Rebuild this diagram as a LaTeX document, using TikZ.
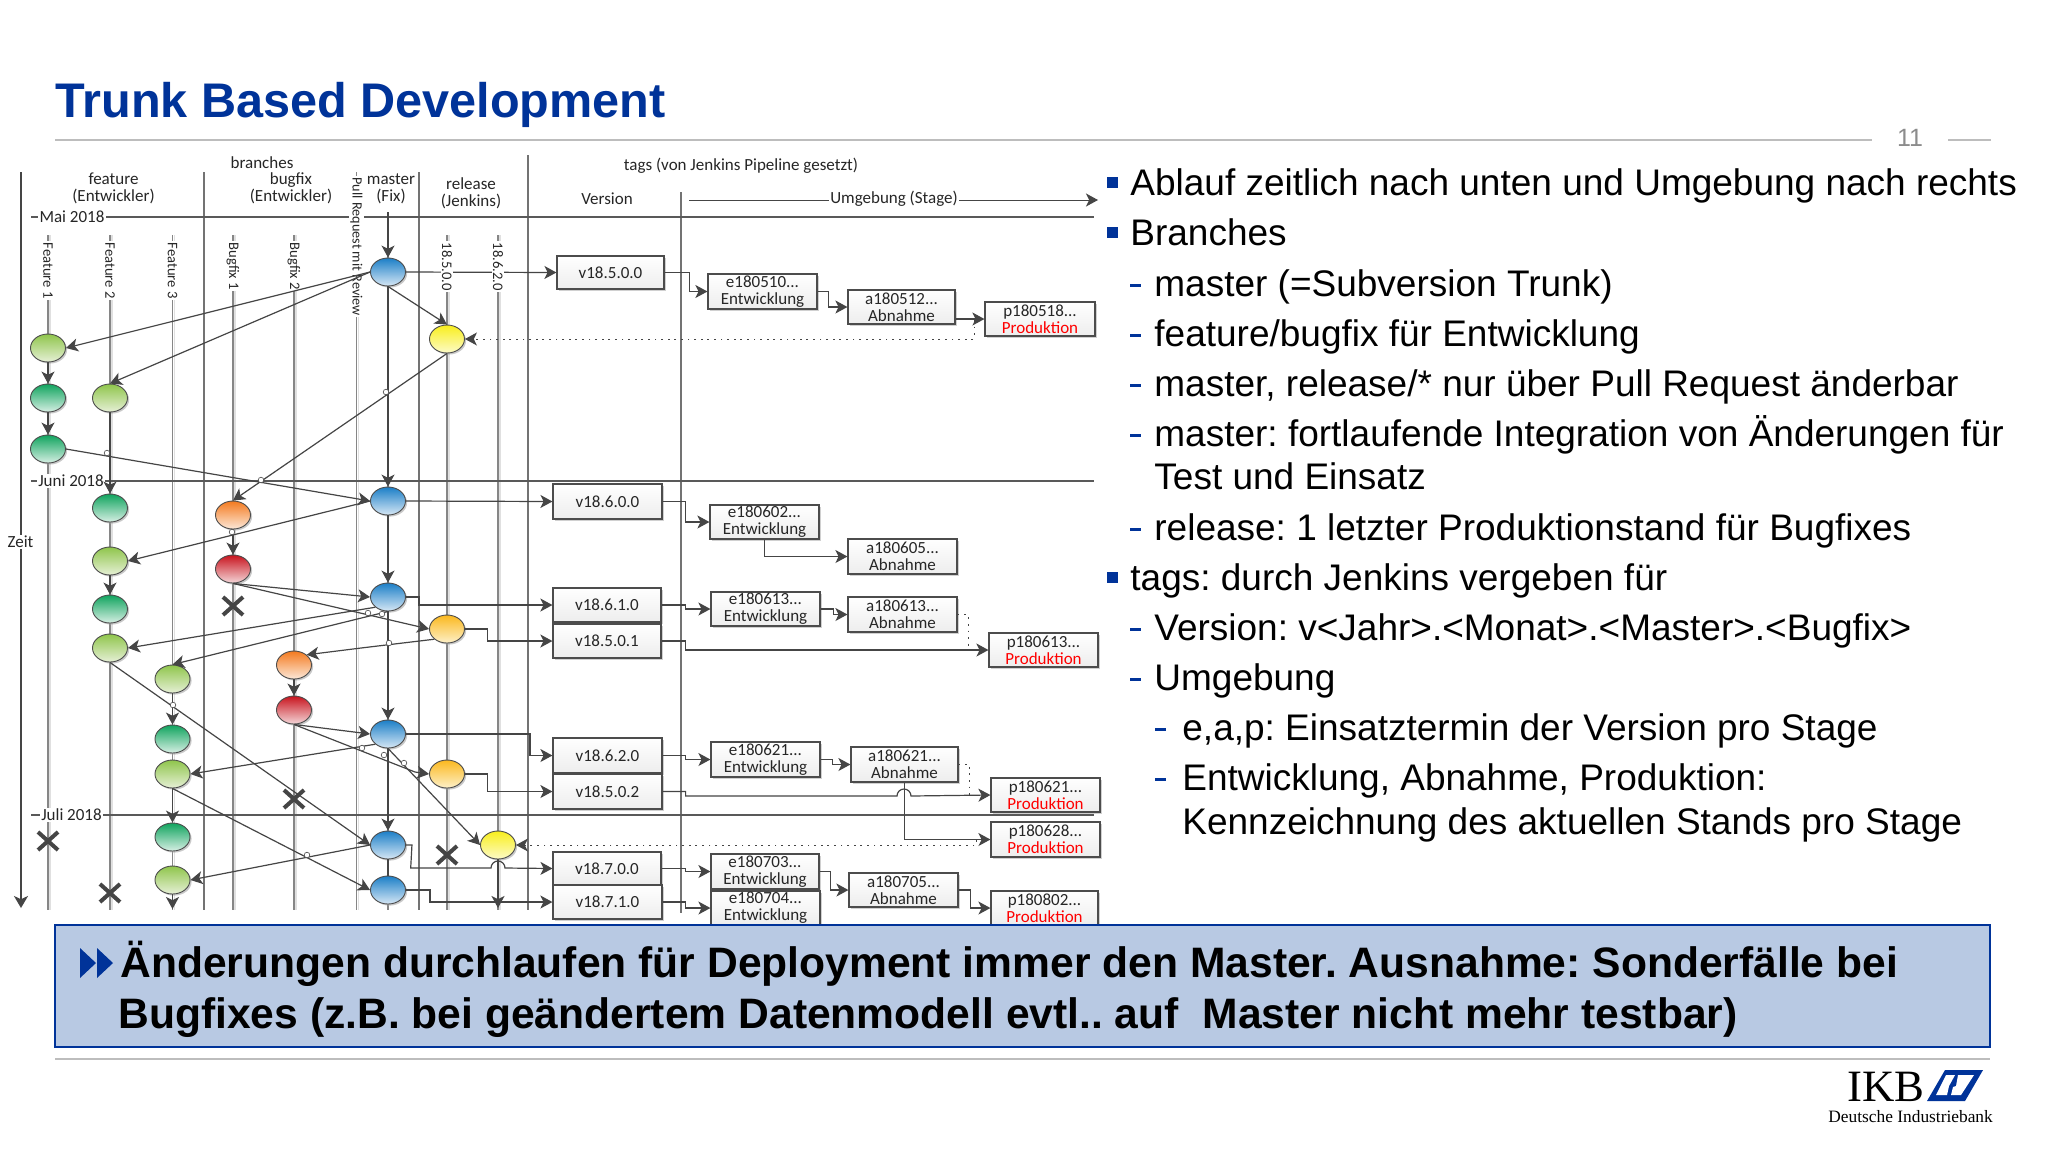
\documentclass[tikz,border=0pt]{standalone}
\usepackage{fontspec}
\setmainfont{Liberation Sans}
\newfontfamily\dgm{Carlito}
\newfontfamily\serifx{Liberation Serif}
\usetikzlibrary{arrows.meta,shapes.geometric,shapes.misc,shadows}
\definecolor{ikb}{HTML}{003399}
\definecolor{bannerfill}{HTML}{B8C9E3}
\definecolor{conn}{HTML}{454545}
\definecolor{brn}{HTML}{868686}
\definecolor{rul}{HTML}{BDBDBD}
\tikzset{
 txt/.style={inner sep=0,font=\dgm\fontsize{8.5}{8.7}\selectfont,align=center,text=black!85},
 vlabel/.style={rotate=-90,anchor=west,inner sep=0.6pt,fill=white,font=\dgm\fontsize{7.3}{8}\selectfont,text=black!85},
 mlabel/.style={inner sep=0.6pt,fill=white,font=\dgm\fontsize{8.5}{8.7}\selectfont,text=black!85},
 branchln/.style={draw=brn,line width=0.9pt},
 branchsh/.style={draw=black!12,line width=0.9pt},
 monthln/.style={draw=black!65,line width=0.7pt},
 sepln/.style={draw=black!55,line width=1pt},
 cn/.style={draw=conn,line width=0.6pt,-{Stealth[length=6pt,width=6.5pt,inset=1.6pt]}},
 cnplain/.style={draw=conn,line width=0.6pt},
 dot/.style={draw=conn,line width=0.5pt,dash pattern=on 0.9pt off 2.4pt},
 dotar/.style={dot,-{Stealth[length=6pt,width=6.5pt,inset=1.6pt,sep=0pt]}},
 hopm/.style={draw=conn,line width=0.3pt,fill=white},
 circ/.style={ellipse,draw=black!70,line width=0.45pt,minimum width=17.5pt,minimum height=14pt,inner sep=0,
   drop shadow={shadow xshift=0.8pt,shadow yshift=-0.8pt,fill=black!35,opacity=.6}},
 lg/.style={circ,top color=lgT,bottom color=lgB},
 dg/.style={circ,top color=dgT,bottom color=dgB},
 og/.style={circ,top color=ogT,bottom color=ogB},
 rd/.style={circ,top color=rdT,bottom color=rdB},
 am/.style={circ,top color=amT,bottom color=amB},
 ye/.style={circ,top color=yeT,bottom color=yeB},
 bl/.style={circ,top color=blT,bottom color=blB},
 killx/.style={cross out,draw=conn,line width=2pt,minimum width=8pt,minimum height=7pt,inner sep=0},
 tagb/.style={rectangle,draw=black!70,line width=0.6pt,top color=white,bottom color=black!7,inner sep=0,
   font=\dgm\fontsize{8.5}{8.5}\selectfont,align=center,text=black!85,
   drop shadow={shadow xshift=0.8pt,shadow yshift=-0.8pt,fill=black!30,opacity=.6}},
 body/.style={anchor=base west,inner sep=0,font=\fontsize{18.5}{20}\selectfont,text=black},
 squareb/.style={fill=ikb},
 banner/.style={anchor=base west,inner sep=0,font=\bfseries\fontsize{21.3}{24}\selectfont,text=black},
}
\definecolor{lgT}{HTML}{8FC54B}\definecolor{lgB}{HTML}{E6F0D6}
\definecolor{dgT}{HTML}{10A45E}\definecolor{dgB}{HTML}{D7EFE4}
\definecolor{ogT}{HTML}{F47A1F}\definecolor{ogB}{HTML}{FCE8D8}
\definecolor{rdT}{HTML}{C8141E}\definecolor{rdB}{HTML}{F4D6D8}
\definecolor{amT}{HTML}{FBB81E}\definecolor{amB}{HTML}{FDF0C8}
\definecolor{yeT}{HTML}{F8EE1C}\definecolor{yeB}{HTML}{FDFBC8}
\definecolor{blT}{HTML}{1C7FC7}\definecolor{blB}{HTML}{D6E7F5}
\newcommand\tagnode[6]{\pgfmathsetmacro\bxw{(#4-#2)*0.5}\pgfmathsetmacro\bxh{(#5-#3)*0.5}%
 \node[tagb,minimum width=\bxw pt,minimum height=\bxh pt] (#1) at ({(#2+#4)/2},{(#3+#5)/2}) {#6};}
\newcommand\prodt{\textcolor{red}{Produktion}}
\newcommand\hopat[2]{\draw[hopm] (#1,#2) circle[radius=1.4pt];}
\newcommand\sqb[1]{\fill[squareb] (1107,#1-18) rectangle (1118,#1-7);}
\newcommand\dsh[2]{\fill[squareb] (#1,#2-12) rectangle (#1+11,#2-9);}
\begin{document}
\frenchspacing
\begin{tikzpicture}[x=0.5pt,y=-0.5pt]
\useasboundingbox (0,0) rectangle (2048,1152);
\fill[white] (0,0) rectangle (2048,1152);

% title and rules
\node[anchor=base west,inner sep=0,font=\bfseries\fontsize{24.3}{26}\selectfont,text=ikb] (title) at (55,117) {Trunk Based Development};
\coordinate (rulea) at (55,140); \coordinate (ruleb) at (1872,140);
\draw[rul,line width=1pt] (rulea) -- (ruleb);
\node[inner sep=0,font=\fontsize{12.5}{13}\selectfont,text=black!45] (pageno) at (1910,138) {11};
\coordinate (rulec) at (1948,140); \coordinate (ruled) at (1991,140);
\draw[rul,line width=1pt] (rulec) -- (ruled);

% column separators and branch lines
\coordinate (zt) at (21,172); \coordinate (zb) at (21,908);
\foreach \x in {48,110,172.5,233,294,356.5,447,498} {\draw[branchsh] (\x+2,235) -- (\x+2,910);\draw[branchln] (\x,235) -- (\x,910);}
\draw[branchln] (356.5,172) -- (356.5,910);
\draw[branchln] (388,212) -- (388,910);
\foreach \x in {204,419} {\draw[sepln] (\x,172) -- (\x,910);}
\draw[sepln] (527.5,155) -- (527.5,910);
\draw[sepln] (680.5,192) -- (680.5,913);

% month lines
\foreach \y in {217,481,815} {\draw[monthln] (31,\y) -- (1094,\y);}
\node[mlabel] (mai) at (72,217) {Mai 2018};
\node[mlabel] (juni) at (71,481) {Juni 2018};
\node[mlabel] (juli) at (71.5,815) {Juli 2018};

% Zeit arrow
\draw[draw=conn,line width=0.9pt,-{Stealth[length=6pt,width=7pt,inset=1.6pt]}] (zt) -- (zb);
\node[mlabel] (zeit) at (20.5,542) {Zeit};

% header texts
\node[txt] (hbr) at (262,163) {branches};
\node[txt] (hfe) at (113.5,188.5) {feature\\(Entwickler)};
\node[txt] (hbu) at (291,188.5) {bugfix\\(Entwickler)};
\node[txt] (hma) at (391,188.5) {master\\(Fix)};
\node[txt] (hre) at (471,193) {release\\(Jenkins)};
\node[txt] (hta) at (741,166) {tags (von Jenkins Pipeline gesetzt)};
\node[txt] (hve) at (607,199) {Version};
\coordinate (umg) at (689,200); \coordinate (ume) at (1098,200);
\draw[draw=conn,line width=0.5pt,-{Stealth[length=6pt,width=6.5pt,inset=1.6pt]}] (umg) -- (ume);
\node[txt,fill=white,inner xsep=0.5pt] (hum) at (894,199) {Umgebung (Stage)};

% branch labels (drawn below the connectors)
\node[vlabel] (l1) at (48,241) {Feature 1};
\node[vlabel] (l2) at (110,241) {Feature 2};
\node[vlabel] (l3) at (172.5,241) {Feature 3};
\node[vlabel] (l4) at (233,241) {Bugfix 1};
\node[vlabel] (l5) at (294,241) {Bugfix 2};
\node[vlabel,font=\dgm\fontsize{7.1}{8}\selectfont] (l6) at (356.5,176) {Pull Request mit Review};

% circles
\node[bl] (m1) at (388,272) {};
\node[ye] (r1) at (447,339) {};
\node[lg] (f1a) at (48,348) {};
\node[dg] (f1b) at (48,398) {};
\node[dg] (f1c) at (48,449) {};
\node[lg] (f2a) at (110,398) {};
\node[dg] (f2b) at (110,508) {};
\node[bl] (m2) at (388,501) {};
\node[og] (b1a) at (233,515) {};
\node[lg] (f2c) at (110,561) {};
\node[rd] (b1b) at (233,569) {};
\node[dg] (f2d) at (110,609) {};
\node[bl] (m3) at (388,597) {};
\node[am] (r2) at (447,629) {};
\node[lg] (f2e) at (110,648) {};
\node[lg] (f3a) at (172.5,679) {};
\node[og] (b2a) at (294,665) {};
\node[rd] (b2b) at (294,710) {};
\node[dg] (f3b) at (172.5,739) {};
\node[bl] (m4) at (388,734) {};
\node[lg] (f3c) at (172.5,774) {};
\node[am] (r3) at (447,774) {};
\node[dg] (f3d) at (172.5,837) {};
\node[bl] (m5) at (388,845) {};
\node[ye] (r4) at (498,845) {};
\node[lg] (f3e) at (172.5,880) {};
\node[bl] (m6) at (388,890) {};
\node[killx] (x1) at (233,606) {};
\node[killx] (x2) at (294,799) {};
\node[killx] (x3) at (48,841) {};
\node[killx] (x4) at (447,855) {};
\node[killx] (x5) at (110,893) {};

% tag boxes
\tagnode{v1}{557}{256}{664}{289}{v18.5.0.0}
\tagnode{e1}{708}{274}{817}{309}{e180510...\\Entwicklung}
\tagnode{a1}{848}{290}{955}{324}{a180512...\\Abnahme}
\tagnode{p1}{985}{302}{1095}{336}{p180518...\\\prodt}
\tagnode{v2}{553}{484}{662}{519}{v18.6.0.0}
\tagnode{e2}{710}{505}{819}{539}{e180602...\\Entwicklung}
\tagnode{a2}{848}{539}{957}{574}{a180605...\\Abnahme}
\tagnode{v3}{553}{588}{661}{622}{v18.6.1.0}
\tagnode{e3}{711}{592}{820}{626}{e180613...\\Entwicklung}
\tagnode{a3}{848}{597}{957}{632}{a180613...\\Abnahme}
\tagnode{v4}{553}{624}{661}{658}{v18.5.0.1}
\tagnode{p3}{989}{633}{1098}{667}{p180613...\\\prodt}
\tagnode{v5}{553}{738}{662}{773}{v18.6.2.0}
\tagnode{e5}{711}{742}{820}{777}{e180621...\\Entwicklung}
\tagnode{a5}{851}{747}{958}{782}{a180621...\\Abnahme}
\tagnode{v6}{553}{774}{662}{809}{v18.5.0.2}
\tagnode{p5}{991}{778}{1100}{812}{p180621...\\\prodt}
\tagnode{p6}{991}{822}{1100}{857}{p180628...\\\prodt}
\tagnode{v7}{553}{852}{661}{885}{v18.7.0.0}
\tagnode{e7}{711}{854}{819}{889}{e180703...\\Entwicklung}
\tagnode{a7}{849}{873}{958}{907}{a180705...\\Abnahme}
\tagnode{v8}{553}{885}{662}{919}{v18.7.1.0}
\tagnode{e8}{711}{891}{820}{925}{e180704...\\Entwicklung}
\tagnode{p8}{991}{891}{1098}{925}{p180802...\\\prodt}

% connectors: master
\coordinate (mtop) at (388,212);
\draw[cn] (mtop) -- (m1.north);
\draw[cn] (m1.south) -- (m2.north);
\draw[cn] (m2.south) -- (m3.north);
\draw[cn] (m3.south) -- (m4.north);
\draw[cn] (m4.south) -- (m5.north);
\draw[cnplain] (m5.south) -- (m6.north);
% feature
\draw[cn] (f1a.south) -- (f1b.north);
\draw[cn] (f1b.south) -- (f1c.north);
\draw[cn] (f2a.south) -- (f2b.north);
\draw[cn] (f2c.south) -- (f2d.north);
\draw[cn] (f3a.south) -- (f3b.north);
\draw[cn] (f3c.south) -- (f3d.north);
\coordinate (f3end) at (172.5,909);
\draw[cn] (f3e.south) -- (f3end);
\draw[cn] (b1a.south) -- (b1b.north);
\draw[cn] (b2a.south) -- (b2b.north);
% diagonals
\draw[cn] (m1.west) -- (f1a.east);
\draw[cn] (m1.west) -- (f2a.north);
\draw[cn] (m1.south) -- (r1.north);
\draw[cn] (f1c.east) -- (m2.west);
\draw[cn] (r1.south) -- (b1a.north);
\draw[cn] (m2.west) -- (f2c.east);
\draw[cn] (b1b.south) -- (m3.west);
\draw[cn] (b1b.south) -- (r2.west);
\draw[cn] (m3.south west) -- (f2e.east);
\draw[cn] (m3.south) -- (f3a.north);
\draw[cn] (r2.south west) -- (361,648) -- (b2a.north east);
\draw[cn] (b2b.south) -- (m4.west);
\draw[cn] (b2b.south) -- (415,772) -- (r3.west);
\draw[cn] (m4.south west) -- (f3c.east);
\draw[cn] (m4.south) -- (r4.west);
\draw[cn] (f2e.south) -- (m5.west);
\draw[cn] (f3c.south) -- (m6.west);
\draw[cn] (m5.west) -- (f3e.east);
\coordinate (r4end) at (498,908);
\draw[cn] (r4.south) -- (r4end);

% release labels cover the first horizontal connector
\draw[cn] (m1.east) -- (v1.west);
\node[vlabel] (l7) at (447,241) {18.5.0.0};
\node[vlabel] (l8) at (498,241) {18.6.2.0};

% master and release to version tags
\draw[cn] (m2.east) -- (v2.west);
\draw[cn] (m3.east) -- ++(13,0) |- (v3.west);
\draw[cn] (r2.east) -- (487.5,629) |- (v4.west);
\draw[cn] (m4.east) -- (530,734) |- (v5.west);
\draw[cn] (r3.east) -- (487.5,774) |- (v6.west);
\draw[cn] (m5.east) -- ++(6,0) -- (410.7,868) -- (491,868) arc[start angle=180,end angle=0,radius=3.5pt] -- (v7.west);
\draw[cn] (m6.east) -- ++(24,0) |- (v8.west);

% version to stage
\draw[cn] (v1.east) -- ++(25,0) |- (e1.west);
\draw[cn] (e1.east) -- ++(11,0) |- (a1.west);
\draw[cn] (a1.east |- p1.west) -- (p1.west);
\draw[cn] (v2.east) -- ++(23,0) |- (e2.west);
\draw[cn] (e2.south) |- (a2.west);
\draw[cn] (v3.east) -- ++(24,0) |- (e3.west);
\draw[cn] (e3.east) -- ++(13,0) |- (a3.west);
\draw[cn] (v4.east) -- ++(24,0) |- (p3.west);
\draw[cn] (v5.east) -- ++(23,0) |- (e5.west);
\draw[cn] (e5.east) -- ++(11.5,0) |- (a5.west);
\draw[cn] (v6.east) -- ++(23,0) -- ++(0,4.5) -- (897,796) arc[start angle=180,end angle=0,radius=3.5pt] -- (p5.west);
\draw[cn] (a5.south) |- (p6.west);
\draw[cn] (v7.east) -- ++(24,0) |- (e7.west);
\draw[cn] (e7.east) -- ++(11,0) |- (a7.west);
\draw[cn] (a7.east) -- ++(12,0) |- (p8.west);
\draw[cn] (v8.east) -- ++(23,0) |- (e8.west);

% dotted
\draw[dotar] (974,320) -- (974,339) -- (r1.east);
\draw[dot] (a3.east) -- (968,614.5) -- (968,650);
\draw[dot] (a5.east) -- (969.5,764.5) -- (969.5,795);
\draw[dotar] (976,840) -- (976,845) -- (r4.east);

% line hops
\foreach \px/\py in {386/392,261/480,107/453,232/532,368/613,382/614,389/643,173/705,307/855,362/748,384/755,404/763} {\hopat{\px}{\py}}

% bullet text
\sqb{195}\node[body] (t1) at (1130,195) {Ablauf zeitlich nach unten und Umgebung nach rechts};
\sqb{245}\node[body] (t2) at (1130,245) {Branches};
\dsh{1130}{296}\node[body] (t3) at (1154,296) {master (=Subversion Trunk)};
\dsh{1130}{346}\node[body] (t4) at (1154,346) {feature/bugfix für Entwicklung};
\dsh{1130}{396}\node[body] (t5) at (1154,396) {master, release/* nur über Pull Request änderbar};
\dsh{1130}{446}\node[body] (t6) at (1154,446) {master: fortlaufende Integration von Änderungen für};
\node[body] (t7) at (1154,489) {Test und Einsatz};
\dsh{1130}{540}\node[body] (t8) at (1154,540) {release: 1 letzter Produktionstand für Bugfixes};
\sqb{590}\node[body] (t9) at (1130,590) {tags: durch Jenkins vergeben für};
\dsh{1130}{640}\node[body] (t10) at (1154,640) {Version: v<Jahr>.<Monat>.<Master>.<Bugfix>};
\dsh{1130}{690}\node[body] (t11) at (1154,690) {Umgebung};
\dsh{1155}{740}\node[body] (t12) at (1182,740) {e,a,p: Einsatztermin der Version pro Stage};
\dsh{1155}{790}\node[body] (t13) at (1182,790) {Entwicklung, Abnahme, Produktion:};
\node[body] (t14) at (1182,834) {Kennzeichnung des aktuellen Stands pro Stage};

% banner
\draw[draw=ikb,line width=1pt,fill=bannerfill] (55,925) rectangle (1990,1047);
\fill[ikb] (80,948) -- (96,963) -- (80,978) -- cycle;
\fill[ikb] (97,948) -- (113,963) -- (97,978) -- cycle;
\node[banner] (b1) at (120,977) {Änderungen durchlaufen für Deployment immer den Master. Ausnahme: Sonderfälle bei};
\node[banner] (b2) at (118,1028) {Bugfixes (z.B. bei geändertem Datenmodell evtl.. auf\ \ Master nicht mehr testbar)};
\coordinate (rulee) at (55,1059); \coordinate (rulef) at (1990,1059);
\draw[rul,line width=1pt] (rulee) -- (rulef);

% logo
\node[anchor=base west,inner sep=0,font=\serifx\fontsize{22.4}{24}\selectfont,text=black] (ikbt) at (1847,1101) {IKB};
\node[anchor=base west,inner sep=0,font=\serifx\fontsize{8.68}{10}\selectfont,text=black] (ikbd) at (1828,1122) {Deutsche Industriebank};
\fill[ikb] (1945,1070) -- (1983,1070) -- (1965,1101) -- (1927,1101) -- cycle;
\fill[white] (1946,1075) -- (1955,1075) -- (1949,1086) -- (1947,1095) -- (1936,1095) -- cycle;
\fill[white] (1958,1075) -- (1974,1075) -- (1961,1095) -- (1951,1095) -- (1953,1087) -- (1956,1086) -- cycle;
\end{tikzpicture}
\end{document}
